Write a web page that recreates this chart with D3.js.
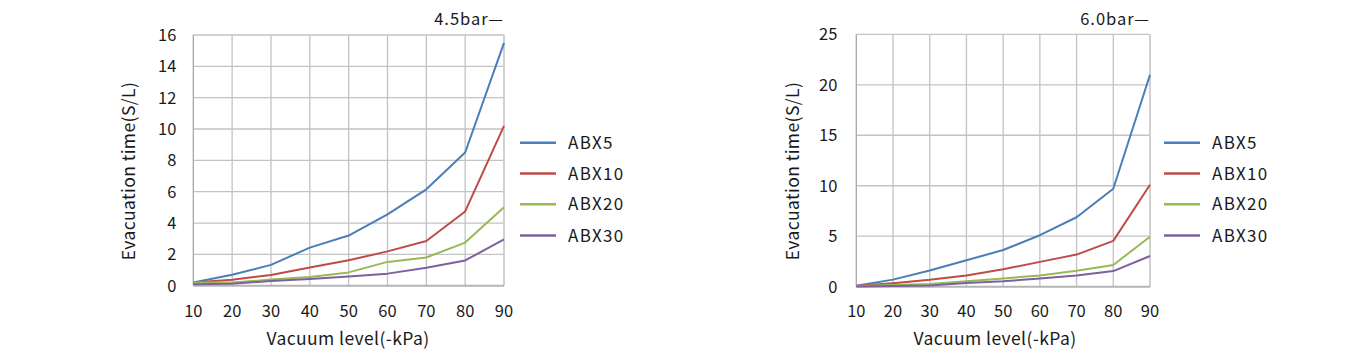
<!DOCTYPE html>
<html>
<head>
<meta charset="utf-8">
<script src="https://cdn.jsdelivr.net/npm/d3@7"></script>
<style>
  html, body { margin: 0; padding: 0; background: #fff; }
  svg { display: block; font-family: "Noto Sans CJK SC", "Noto Sans", sans-serif; }
</style>
</head>
<body>
<svg id="chart" width="1353" height="356"></svg>
<script>
// ---- data ----
const vacuumLevels = [10, 20, 30, 40, 50, 60, 70, 80, 90];
const seriesNames = ["ABX5", "ABX10", "ABX20", "ABX30"];
const seriesColors = ["#4a7ebb", "#be4b48", "#98b954", "#7d60a0"];

// 4.5 bar
const bar45_ABX5  = [0.2, 0.7, 1.33, 2.43, 3.2, 4.55, 6.15, 8.5, 15.5];
const bar45_ABX10 = [0.2, 0.38, 0.68, 1.16, 1.62, 2.19, 2.85, 4.74, 10.2];
const bar45_ABX20 = [0.2, 0.2, 0.39, 0.56, 0.85, 1.52, 1.8, 2.75, 5.0];
const bar45_ABX30 = [0.1, 0.12, 0.3, 0.42, 0.58, 0.77, 1.15, 1.61, 2.95];

// 6.0 bar
const bar60_ABX5  = [0.1, 0.7, 1.6, 2.62, 3.63, 5.1, 6.88, 9.7, 21.0];
const bar60_ABX10 = [0.1, 0.35, 0.68, 1.12, 1.72, 2.46, 3.18, 4.54, 10.1];
const bar60_ABX20 = [0.07, 0.18, 0.26, 0.55, 0.82, 1.12, 1.58, 2.15, 4.95];
const bar60_ABX30 = [0.03, 0.07, 0.12, 0.36, 0.53, 0.82, 1.11, 1.55, 3.04];

const leftTicksY = [0, 2, 4, 6, 8, 10, 12, 14, 16];
const rightTicksY = [0, 5, 10, 15, 20, 25];
const xTitle = "Vacuum level(-kPa)";
const yTitle = "Evacuation time(S/L)";

const svg = d3.select("#chart");

function drawChart(cfg) {
  const g = svg.append("g");
  const x = d3.scaleLinear().domain([10, 90]).range([cfg.left, cfg.right]);
  const y = d3.scaleLinear().domain([0, cfg.ymax]).range([cfg.bottom, cfg.top]);

  // vertical grid
  g.append("g").selectAll("line").data(vacuumLevels.slice(1, -1)).join("line")
    .attr("x1", d => x(d)).attr("x2", d => x(d))
    .attr("y1", cfg.top).attr("y2", cfg.bottom)
    .attr("stroke", "#c3c3c3").attr("stroke-width", 1.3);
  // horizontal grid
  g.append("g").selectAll("line").data(cfg.ticks.slice(1)).join("line")
    .attr("x1", cfg.left).attr("x2", cfg.right)
    .attr("y1", d => y(d)).attr("y2", d => y(d))
    .attr("stroke", "#c3c3c3").attr("stroke-width", 1.3);
  // right border
  g.append("line").attr("x1", cfg.right).attr("x2", cfg.right)
    .attr("y1", cfg.top).attr("y2", cfg.bottom)
    .attr("stroke", "#d0d0d0").attr("stroke-width", 2);
  // left & bottom axes
  g.append("line").attr("x1", cfg.left).attr("x2", cfg.left)
    .attr("y1", cfg.top).attr("y2", cfg.bottom)
    .attr("stroke", "#a8a8a8").attr("stroke-width", 1.3);
  g.append("line").attr("x1", cfg.left).attr("x2", cfg.right)
    .attr("y1", cfg.bottom).attr("y2", cfg.bottom)
    .attr("stroke", "#b5b5b5").attr("stroke-width", 2);

  // tick labels
  g.append("g").selectAll("text").data(cfg.ticks).join("text")
    .attr("x", cfg.left - cfg.ylabGap).attr("y", d => y(d))
    .attr("dy", "0.36em").attr("text-anchor", "end")
    .attr("font-size", 16.5).attr("fill", "#1a1a1a").text(d => d);
  g.append("g").selectAll("text").data(vacuumLevels).join("text")
    .attr("x", d => x(d)).attr("y", 317)
    .attr("text-anchor", "middle")
    .attr("font-size", 16.5).attr("fill", "#1a1a1a").text(d => d);

  // lines
  const line = d3.line().x((d, i) => x(vacuumLevels[i])).y(d => y(d));
  cfg.series.forEach((vals, i) => {
    g.append("path").datum(vals)
      .attr("d", line).attr("fill", "none")
      .attr("stroke", seriesColors[i]).attr("stroke-width", 2)
      .attr("stroke-linejoin", "round");
  });

  // titles
  g.append("text").attr("x", cfg.xTitleX).attr("y", 345)
    .attr("text-anchor", "middle").attr("font-size", 17.5).attr("fill", "#1a1a1a")
    .attr("letter-spacing", "0.4px").text(xTitle);
  g.append("text")
    .attr("transform", `translate(${cfg.yTitleX},171) rotate(-90)`)
    .attr("text-anchor", "middle").attr("dy", "0.36em")
    .attr("font-size", 17.5).attr("fill", "#1a1a1a")
    .attr("letter-spacing", "0.4px").text(yTitle);
  g.append("text").attr("x", cfg.right).attr("y", 25)
    .attr("text-anchor", "end").attr("font-size", 16.5).attr("fill", "#1a1a1a")
    .attr("letter-spacing", "1px").text(cfg.pressure);

  // legend
  const legY = [142.7, 173.5, 204.3, 235.5];
  seriesNames.forEach((name, i) => {
    g.append("line").attr("x1", cfg.legX).attr("x2", cfg.legX + 36)
      .attr("y1", legY[i]).attr("y2", legY[i])
      .attr("stroke", seriesColors[i]).attr("stroke-width", 2.5);
    g.append("text").attr("x", cfg.legX + 48).attr("y", legY[i])
      .attr("dy", "0.36em").attr("font-size", 17).attr("fill", "#1a1a1a")
      .attr("letter-spacing", "1.3px").text(name);
  });
}

drawChart({
  left: 193.3, right: 504, top: 35, bottom: 285.7, ymax: 16,
  ticks: leftTicksY, ylabGap: 17,
  series: [bar45_ABX5, bar45_ABX10, bar45_ABX20, bar45_ABX30],
  xTitleX: 348, yTitleX: 129, pressure: "4.5bar—", legX: 520
});
drawChart({
  left: 856.3, right: 1150, top: 34.3, bottom: 286.7, ymax: 25,
  ticks: rightTicksY, ylabGap: 19,
  series: [bar60_ABX5, bar60_ABX10, bar60_ABX20, bar60_ABX30],
  xTitleX: 995, yTitleX: 793, pressure: "6.0bar—", legX: 1164
});
</script>
</body>
</html>
